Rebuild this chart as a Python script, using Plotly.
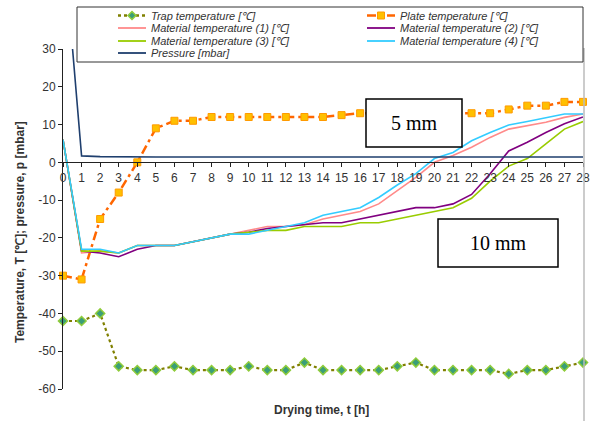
import plotly.graph_objects as go

# ---------------- data ----------------
hours = list(range(29))
x_tick_vals = list(range(29))
y_tick_vals = list(range(-60, 31, 10))
y_tick_text = [str(v) for v in y_tick_vals]

trap_temp = [-42, -42, -40, -54, -55, -55, -54, -55, -55, -55, -54, -55, -55, -53, -55,
             -55, -55, -55, -54, -53, -55, -55, -55, -55, -56, -55, -55, -54, -53]
plate_temp = [-30, -31, -15, -8, 0, 9, 11, 11, 12, 12, 12, 12, 12, 12, 12,
              12.5, 13, 13, 13, 13, 13, 13, 13, 13, 14, 15, 15, 16, 16]
mat_temp_1 = [6, -24, -23.5, -24, -22, -22, -22, -21, -20, -19, -18, -17, -17, -16.5, -15,
              -14, -13, -11, -7.5, -4, 0, 1.8, 4, 6.6, 8.8, 9.7, 10.6, 11.9, 12.8]
mat_temp_2 = [6, -23.5, -24, -25, -23, -22, -22, -21, -20, -19, -18.5, -17.5, -17, -16.5, -16,
              -16, -15, -14, -13, -12, -12, -11, -8.5, -3, 3, 5.3, 7.9, 10.2, 12]
mat_temp_3 = [6, -23.5, -23.5, -24, -22, -22, -22, -21, -20, -19, -18.5, -18, -18, -17, -17,
              -17, -16, -16, -15, -14, -13, -12, -9.5, -5, -1, 1, 4.9, 8.8, 10.8]
mat_temp_4 = [6, -23, -23, -24, -22, -22, -22, -21, -20, -19, -19, -18, -17, -16, -14,
              -13, -12, -9.3, -6, -3, 1, 2.6, 5.7, 7.9, 9.9, 10.8, 11.7, 12.8, 12.8]
pressure = [60, 1.7, 1.5, 1.4, 1.4, 1.4, 1.4, 1.4, 1.4, 1.4, 1.4, 1.4, 1.4, 1.4, 1.4,
            1.4, 1.4, 1.4, 1.4, 1.4, 1.4, 1.4, 1.4, 1.4, 1.4, 1.4, 1.4, 1.4, 1.4]

names = ["Trap temperature [℃]", "Plate temperature [℃]",
         "Material temperature (1) [℃]", "Material temperature (2) [℃]",
         "Material temperature (3) [℃]", "Material temperature (4) [℃]",
         "Pressure [mbar]"]

# ---------------- geometry / style ----------------
W, H = 592, 421
L, R, T, B = 63, 583, 49, 389
Y_MIN, Y_MAX = -60, 30


def px(x):
    return x / W


def py(y):
    return 1 - y / H


FONT = "Liberation Sans Narrow, Arial Narrow, Liberation Sans, Arial, sans-serif"
TXT = "#333333"

C_TRAP_LINE = "#808000"
C_TRAP_FILL = "#3A9E78"
C_TRAP_EDGE = "#8FCC3A"
C_PLATE_LINE = "#FF6600"
C_PLATE_FILL = "#FFC000"
C_PLATE_EDGE = "#FF9A00"
C_M1 = "#FF8A8A"
C_M2 = "#800080"
C_M3 = "#99CC00"
C_M4 = "#33CCFF"
C_P = "#1F3F6E"

TRAP_DASH = "3px,3px"
PLATE_DASH = "9px,4px,3px,4px"

fig = go.Figure()

fig.add_trace(go.Scatter(x=hours, y=trap_temp, name=names[0], mode="lines+markers",
                         line=dict(color=C_TRAP_LINE, width=2.2, dash=TRAP_DASH),
                         marker=dict(symbol="diamond", size=7, color=C_TRAP_FILL,
                                     line=dict(color=C_TRAP_EDGE, width=1.5)),
                         cliponaxis=False))
fig.add_trace(go.Scatter(x=hours, y=plate_temp, name=names[1], mode="lines+markers",
                         line=dict(color=C_PLATE_LINE, width=2.5, dash=PLATE_DASH),
                         marker=dict(symbol="square", size=7, color=C_PLATE_FILL,
                                     line=dict(color=C_PLATE_EDGE, width=1)),
                         cliponaxis=False))
for vals, col, nm in [(mat_temp_1, C_M1, names[2]), (mat_temp_2, C_M2, names[3]),
                      (mat_temp_3, C_M3, names[4]), (mat_temp_4, C_M4, names[5])]:
    fig.add_trace(go.Scatter(x=hours, y=vals, name=nm, mode="lines",
                             line=dict(color=col, width=1.6)))
fig.add_trace(go.Scatter(x=hours, y=pressure, name=names[6], mode="lines",
                         line=dict(color=C_P, width=1.6)))

# position of the x axis (crossing at y = 0) in paper coordinates
y0_px = T + (Y_MAX - 0) / (Y_MAX - Y_MIN) * (B - T)

fig.update_layout(
    width=W, height=H,
    margin=dict(l=0, r=0, t=0, b=0, pad=0),
    paper_bgcolor="white", plot_bgcolor="white",
    showlegend=False,
    font=dict(family=FONT, color=TXT, size=11),
    xaxis=dict(domain=[px(L), px(R)], range=[0, 28], anchor="free", position=py(y0_px),
               tickvals=x_tick_vals, ticktext=[str(v) for v in x_tick_vals],
               showline=True, linecolor="#222222", linewidth=1,
               ticks="outside", ticklen=4, tickcolor="#222222",
               tickfont=dict(size=12, family=FONT, color=TXT),
               showgrid=False, zeroline=False, automargin=False),
    yaxis=dict(domain=[py(B), py(T)], range=[Y_MIN, Y_MAX],
               tickvals=y_tick_vals, ticktext=y_tick_text,
               showline=True, linecolor="#222222", linewidth=1,
               ticks="outside", ticklen=4, tickcolor="#222222",
               tickfont=dict(size=12, family=FONT, color=TXT),
               showgrid=False, zeroline=False, automargin=False),
)

shapes = []
annotations = []

# right border of chart
shapes.append(dict(type="line", xref="paper", yref="paper",
                   x0=px(R + 1), x1=px(R + 1), y0=py(T - 1), y1=py(H),
                   line=dict(color="#BBBBBB", width=1.5)))

# legend box
shapes.append(dict(type="rect", xref="paper", yref="paper", layer="above",
                   x0=px(77), x1=px(R), y0=py(62), y1=py(7),
                   line=dict(color="#333333", width=1), fillcolor="white"))

legend_cols = [118, 367]
legend_rows = [15.5, 28, 41, 53]
leg_items = [
    (names[0], 0, 0, C_TRAP_LINE, TRAP_DASH, 2.5, "diamond"),
    (names[1], 1, 0, C_PLATE_LINE, PLATE_DASH, 2.5, "square"),
    (names[2], 0, 1, C_M1, "solid", 1.8, None),
    (names[3], 1, 1, C_M2, "solid", 1.8, None),
    (names[4], 0, 2, C_M3, "solid", 1.8, None),
    (names[5], 1, 2, C_M4, "solid", 1.8, None),
    (names[6], 0, 3, C_P, "solid", 1.8, None),
]
for nm, c, r, col, dash, lw, sym in leg_items:
    x0 = legend_cols[c]
    yc = legend_rows[r]
    shapes.append(dict(type="line", xref="paper", yref="paper", layer="above",
                       x0=px(x0), x1=px(x0 + 28), y0=py(yc), y1=py(yc),
                       line=dict(color=col, width=lw, dash=dash)))
    xm = x0 + 14
    if sym == "square":
        shapes.append(dict(type="rect", xref="paper", yref="paper", layer="above",
                           x0=px(xm - 3.5), x1=px(xm + 3.5), y0=py(yc + 3.5), y1=py(yc - 3.5),
                           line=dict(color=C_PLATE_EDGE, width=1), fillcolor=C_PLATE_FILL))
    elif sym == "diamond":
        d = 4
        path = (f"M {px(xm - d)},{py(yc)} L {px(xm)},{py(yc - d)} "
                f"L {px(xm + d)},{py(yc)} L {px(xm)},{py(yc + d)} Z")
        shapes.append(dict(type="path", xref="paper", yref="paper", layer="above", path=path,
                           line=dict(color=C_TRAP_EDGE, width=1.5), fillcolor=C_TRAP_FILL))
    annotations.append(dict(xref="paper", yref="paper", x=px(x0 + 31), y=py(yc),
                            xanchor="left", yanchor="middle", showarrow=False,
                            text=f"<i>{nm}</i>",
                            font=dict(family=FONT, size=11, color=TXT)))

# label boxes
for (x0, x1, y0, y1, label) in [(366, 462, 99, 147, "5 mm"), (438, 558, 219, 267, "10 mm")]:
    shapes.append(dict(type="rect", xref="paper", yref="paper", layer="above",
                       x0=px(x0), x1=px(x1), y0=py(y1), y1=py(y0),
                       line=dict(color="black", width=1.5), fillcolor="white"))
    annotations.append(dict(xref="paper", yref="paper", x=px((x0 + x1) / 2), y=py((y0 + y1) / 2),
                            xanchor="center", yanchor="middle", showarrow=False, text=label,
                            font=dict(family="Liberation Serif, Times New Roman, serif",
                                      size=20, color="black")))

# axis titles
annotations.append(dict(xref="paper", yref="paper", x=px(321), y=py(410),
                        xanchor="center", yanchor="middle", showarrow=False,
                        text="<b>Drying time, t [h]</b>",
                        font=dict(family=FONT, size=12, color=TXT)))
annotations.append(dict(xref="paper", yref="paper", x=px(20), y=py(232),
                        xanchor="center", yanchor="middle", showarrow=False, textangle=-90,
                        text="<b>Temperature, T [℃]; pressure, p [mbar]</b>",
                        font=dict(family="Liberation Sans, Arial, sans-serif", size=12, color=TXT)))

fig.update_layout(shapes=shapes, annotations=annotations)

fig.write_html("out.html")
